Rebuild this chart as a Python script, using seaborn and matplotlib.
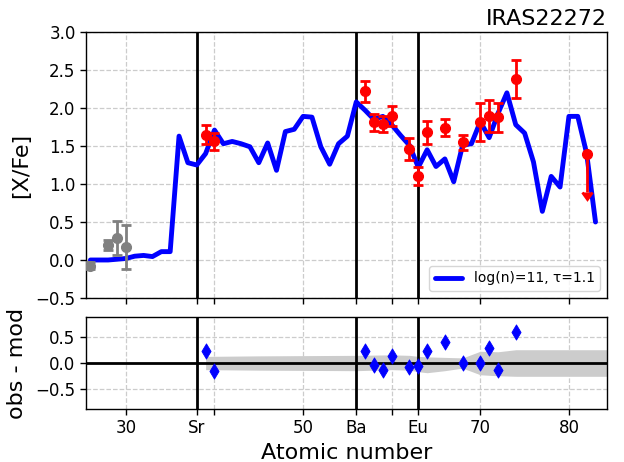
import numpy as np
import pandas as pd
import matplotlib
matplotlib.use("Agg")
import matplotlib.pyplot as plt
import seaborn as sns

# ---------------- data ----------------
model_z = list(range(26, 84))
model_val = [0.00, 0.00, 0.00, 0.01, 0.02, 0.05, 0.06, 0.045, 0.11, 0.11,
             1.63, 1.28, 1.25, 1.40, 1.71, 1.53, 1.56, 1.53, 1.49, 1.28,
             1.54, 1.18, 1.69, 1.72, 1.89, 1.88, 1.49, 1.26, 1.53, 1.63,
             2.08, 1.97, 1.85, 1.89, 1.78, 1.64, 1.51, 1.22, 1.45, 1.23,
             1.33, 1.03, 1.51, 1.53, 1.82, 1.61, 1.93, 2.20, 1.78, 1.67,
             1.29, 0.64, 1.10, 0.96, 1.89, 1.89, 1.40, 0.50]

obs_z = [39, 40, 57, 58, 59, 60, 62, 63, 64, 66, 68, 70, 71, 72, 74]
obs_val = [1.65, 1.56, 2.22, 1.81, 1.79, 1.89, 1.46, 1.11, 1.68, 1.74, 1.55,
           1.82, 1.90, 1.88, 2.38]
obs_err = [0.12, 0.11, 0.14, 0.11, 0.11, 0.13, 0.14, 0.12, 0.15, 0.11, 0.10,
           0.25, 0.21, 0.19, 0.25]

lim_z = [82]
lim_val = [1.40]
lim_len = [0.51]

gray_z = [26, 28, 29, 30]
gray_val = [-0.075, 0.20, 0.285, 0.167]
gray_err = [0.05, 0.065, 0.225, 0.29]

res_z = [39, 40, 57, 58, 59, 60, 62, 63, 64, 66, 68, 70, 71, 72, 74]
res_val = [0.24, -0.16, 0.24, -0.03, -0.13, 0.13, -0.08, -0.05, 0.24, 0.42,
           0.00, 0.00, 0.29, -0.14, 0.60]

band_z = [39, 45, 56, 60, 62, 63, 64, 66, 68, 70, 72, 74, 84.3]
band_hi = [0.13, 0.14, 0.15, 0.16, 0.15, 0.13, 0.12, 0.11, 0.10, 0.23, 0.22, 0.26, 0.26]
band_lo = [-0.13, -0.14, -0.15, -0.13, -0.14, -0.17, -0.19, -0.15, -0.10, -0.23, -0.25, -0.26, -0.26]

xtick_pos = [30, 38, 40, 50, 56, 60, 63, 70, 80]
xtick_lab = ['30', 'Sr', '', '50', 'Ba', '', 'Eu', '70', '80']
mark_z = [38, 56, 63]

legend_label = 'log(n)=11, τ=1.1'
title = 'IRAS22272'

# ---------------- plot ----------------
sns.set_style("ticks")
plt.rcParams['font.family'] = ['DejaVu Sans']
plt.rcParams['axes.edgecolor'] = 'black'
plt.rcParams['xtick.color'] = 'black'
plt.rcParams['ytick.color'] = 'black'
plt.rcParams['text.color'] = 'black'
plt.rcParams['axes.labelcolor'] = 'black'

fig = plt.figure(figsize=(6.24, 4.62), dpi=100)
ax1 = fig.add_axes([0.1378, 0.355, 0.835, 0.5757])
ax2 = fig.add_axes([0.1378, 0.1147, 0.835, 0.1991])

df_model = pd.DataFrame({'Z': model_z, 'val': model_val})
df_res = pd.DataFrame({'Z': res_z, 'res': res_val})

xlim = (25.5, 84.3)
for ax in (ax1, ax2):
    ax.grid(True, ls='--', color='#cccccc', lw=0.9)
    ax.set_axisbelow(True)
    for z in mark_z:
        ax.axvline(z, color='black', lw=2, zorder=2)
    ax.set_xlim(*xlim)
    ax.set_xticks(xtick_pos)
    ax.tick_params(labelsize=12, length=4, width=1, labelcolor='black')
    for s in ax.spines.values():
        s.set_linewidth(1.0)

# top panel
sns.lineplot(data=df_model, x='Z', y='val', ax=ax1, color='blue', lw=3.5,
             label=legend_label, zorder=3)
ax1.errorbar(gray_z, gray_val, yerr=gray_err, fmt='o', color='gray', ms=7,
             capsize=3.5, capthick=2, elinewidth=2, zorder=4)
ax1.errorbar(obs_z, obs_val, yerr=obs_err, fmt='o', color='red', ms=7,
             capsize=3.5, capthick=2, elinewidth=2, zorder=4)
ax1.errorbar(lim_z, lim_val, yerr=lim_len, uplims=True, fmt='o', color='red',
             ms=7, capsize=3.5, capthick=2, elinewidth=2, zorder=4)
ax1.set_ylim(-0.5, 3.0)
ax1.set_yticks(np.arange(-0.5, 3.01, 0.5))
ax1.set_xticklabels([])
ax1.set_xlabel('')
ax1.set_ylabel('[X/Fe]', fontsize=16)
ax1.yaxis.set_label_coords(-0.105, 0.5)
ax1.set_title(title, loc='right', fontsize=16, pad=5, color='black')
leg = ax1.legend(loc='lower right', fontsize=10, handlelength=2.0, frameon=True)
for t in leg.get_texts():
    t.set_color('black')

# bottom panel
ax2.fill_between(band_z, band_lo, band_hi, color='#cccccc', lw=0, zorder=1)
ax2.axhline(0, color='black', lw=2, zorder=2)
sns.scatterplot(data=df_res, x='Z', y='res', ax=ax2, marker='d', color='blue',
                edgecolor='blue', s=60, zorder=5)
ax2.set_ylim(-0.9, 0.9)
ax2.set_yticks([-0.5, 0.0, 0.5])
ax2.set_xticklabels(xtick_lab)
ax2.set_xlabel('Atomic number', fontsize=16)
ax2.set_ylabel('obs - mod', fontsize=16)
ax2.yaxis.set_label_coords(-0.113, 0.5)

fig.savefig('out.png', dpi=100)
